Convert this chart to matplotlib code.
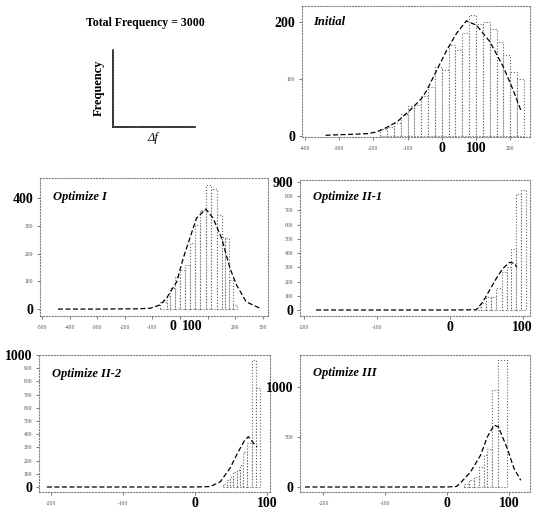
import numpy as np
import matplotlib
matplotlib.use('Agg')
import matplotlib.pyplot as plt

plt.rcParams['font.family'] = ['Liberation Serif', 'DejaVu Serif']

# ---- histogram data (bin edges / counts) ----
init_edges = [-180, -160, -140, -120, -100, -80, -60, -40, -20, 0, 20, 40, 60, 80,
              100, 120, 140, 160, 180, 200, 220, 240]
init_counts = [12, 16, 22, 38, 52, 55, 70, 86, 121, 116, 160, 151, 180, 212,
               197, 200, 188, 165, 142, 113, 100]
init_fit_x = [-340, -300, -250, -215, -190, -167, -130, -93, -60, -44, -15, 14, 43,
              72, 102, 141, 180, 209, 233]
init_fit_y = [1, 2, 3, 4, 7, 13, 25, 45, 65, 80, 115, 150, 180, 202, 194, 165, 121, 80, 42]

opt1_edges = [-72, -48, -36, -18, 0, 18, 36, 54, 72, 94, 112, 133, 151, 163, 179, 193, 205]
opt1_counts = [26, 44, 76, 117, 140, 159, 238, 303, 357, 448, 433, 340, 261, 256, 105, 14]
opt1_fit_x = [-442, -300, -150, -108, -72, -48, -12, 12, 36, 60, 94, 120, 151, 181, 205, 240, 290]
opt1_fit_y = [0, 0, 1, 3, 15, 40, 98, 184, 256, 328, 361, 328, 256, 148, 87, 26, 3]

opt21_edges = [39, 43, 50, 57, 64, 71, 78.5, 84.5, 90.5, 97, 105]
opt21_counts = [20, 49, 94, 94, 155, 270, 300, 429, 815, 845]
opt21_fit_x = [-183, -100, 0, 36.5, 45.6, 54.8, 64, 73, 82, 89, 92]
opt21_fit_y = [0, 0, 0, 2, 58, 141, 223, 293, 335, 328, 300]

opt22_edges = [39, 44, 48.6, 53, 58, 62.5, 67, 72, 79, 85, 90]
opt22_counts = [20, 53, 78, 110, 129, 167, 268, 330, 962, 750]
opt22_fit_x = [-206, -100, 0, 21, 35, 48.6, 60, 69, 74, 81, 86]
opt22_fit_y = [0, 0, 0, 3, 40, 144, 268, 356, 381, 333, 303]

opt3_edges = [27, 35, 43, 52, 60, 64, 72, 83, 96]
opt3_counts = [30, 67, 100, 200, 317, 384, 967, 1267]
opt3_fit_x = [-230, -100, 0, 15, 21.5, 37.8, 54, 65, 76, 83, 97, 108, 119]
opt3_fit_y = [0, 0, 0, 5, 40, 150, 317, 500, 617, 600, 387, 187, 67]

W, H = 539, 512
fig = plt.figure(figsize=(W / 100, H / 100), dpi=100)
fig.patch.set_facecolor('white')


def box(x0, y0, x1, y1):
    # pixel box -> figure fraction
    return [x0 / W, 1 - y1 / H, (x1 - x0) / W, (y1 - y0) / H]


def panel(rect, edges, counts, fx, fy, title, xlim, ylim, xt, yt, big_x, big_y, tpos):
    ax = fig.add_axes(rect)
    e = np.array(edges, dtype=float)
    ax.bar(e[:-1], counts, width=np.diff(e), align='edge', facecolor='white',
           edgecolor='0.4', linestyle=':', linewidth=0.8, zorder=2)
    ax.plot(fx, fy, color='k', linestyle=(0, (4, 2)), linewidth=0.9, zorder=3)
    ax.set_xlim(xlim)
    ax.set_ylim(ylim)
    for s in ax.spines.values():
        s.set_linestyle(':')
        s.set_color('0.5')
        s.set_linewidth(0.8)
    ax.tick_params(length=2, width=0.6, color='0.4', labelsize=4, labelcolor='0.3')
    ax.tick_params(axis='x', pad=6.5)
    ax.tick_params(axis='y', pad=3)
    ax.set_xticks(xt)
    ax.set_xticklabels([str(v) for v in xt])
    ax.set_yticks(yt)
    ax.set_yticklabels([str(v) for v in yt])
    for t, v in zip(ax.get_xticklabels(), xt):
        t.set_va('center')
        if v in big_x:
            t.set_fontsize(10)
            t.set_fontweight('bold')
            t.set_color('k')
    for t, v in zip(ax.get_yticklabels(), yt):
        if v in big_y:
            t.set_fontsize(10)
            t.set_fontweight('bold')
            t.set_color('k')
    ax.text(tpos[0], tpos[1], title, transform=ax.transAxes, fontsize=9,
            fontweight='bold', fontstyle='italic', va='center', ha='left')
    return ax


panel(box(302, 6, 530, 137), init_edges, init_counts, init_fit_x, init_fit_y,
      'Initial', (-409, 258), (-2, 228),
      [-400, -300, -200, -100, 0, 100, 200], [0, 100, 200], [0, 100], [0, 200],
      (0.05, 0.88))

ax1 = panel(box(40, 178, 268, 316), opt1_edges, opt1_counts, opt1_fit_x, opt1_fit_y,
            'Optimize I', (-507, 319), (-25, 473),
            [-500, -400, -300, -200, -100, 0, 100, 200, 300], [0, 100, 200, 300, 400],
            [], [0, 400], (0.055, 0.86))
# in the original the large "0  100" labels sit a little left of their ticks
labs = ax1.get_xticklabels()
labs[5].set_text('')
labs[6].set_text('')
ax1.set_xticklabels([t.get_text() for t in labs])
for t in ax1.get_xticklabels():
    t.set_va('center')
for txt, xv in [('0', -25), ('100', 43)]:
    ax1.text(xv, -0.075, txt, transform=ax1.get_xaxis_transform(), ha='center',
             va='center', fontsize=10, fontweight='bold')

panel(box(300, 180, 530, 316), opt21_edges, opt21_counts, opt21_fit_x, opt21_fit_y,
      'Optimize II-1', (-205, 110), (-42, 914),
      [-200, -100, 0, 100], [0, 100, 200, 300, 400, 500, 600, 700, 800, 900],
      [0, 100], [0, 900], (0.057, 0.875))

panel(box(39, 355, 270, 492), opt22_edges, opt22_counts, opt22_fit_x, opt22_fit_y,
      'Optimize II-2', (-217, 104), (-38, 1000),
      [-200, -100, 0, 100], [0, 100, 200, 300, 400, 500, 600, 700, 800, 900, 1000],
      [0, 100], [0, 1000], (0.056, 0.86))

panel(box(300, 355, 530, 492), opt3_edges, opt3_counts, opt3_fit_x, opt3_fit_y,
      'Optimize III', (-238, 134), (-50, 1317),
      [-200, -100, 0, 100], [0, 500, 1000],
      [0, 100], [0, 1000], (0.057, 0.87))

# legend sketch in the top-left corner
axk = fig.add_axes(box(113, 50, 195, 127))
axk.set_xticks([])
axk.set_yticks([])
axk.spines['top'].set_visible(False)
axk.spines['right'].set_visible(False)
for s in ('left', 'bottom'):
    axk.spines[s].set_color('0.2')
    axk.spines[s].set_linewidth(1.3)
    axk.spines[s].set_linestyle((0, (1, 0.6)))
fig.text(145 / W, 1 - 23 / H, 'Total Frequency = 3000', ha='center', va='center',
         fontsize=8.5, fontweight='bold')
fig.text(99 / W, 1 - 88 / H, 'Frequency', ha='center', va='center', rotation=90,
         fontsize=9, fontweight='bold')
fig.text(153 / W, 1 - 138 / H, 'Δf', ha='center', va='center', fontsize=9,
         fontstyle='italic')

fig.savefig('out.png', dpi=100)
